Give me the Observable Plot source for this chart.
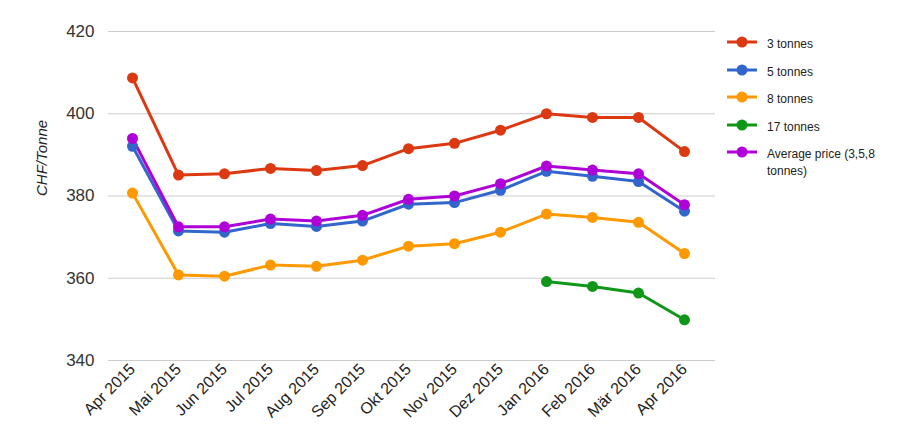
<!DOCTYPE html>
<html><head><meta charset="utf-8">
<script src="https://cdn.jsdelivr.net/npm/d3@7"></script>
<script src="https://cdn.jsdelivr.net/npm/@observablehq/plot@0.6"></script>
<style>
body{margin:0;background:#fff;font-family:Arial,"Liberation Sans",sans-serif;}
#wrap{position:relative;width:911px;height:441px;}
#legend{position:absolute;left:726px;top:33px;font-size:12px;color:#222;}
.it{position:relative;height:27.5px;}
.it svg{position:absolute;left:0;top:2px;}
.it span{position:absolute;left:41px;top:3px;width:140px;line-height:17px;}
</style></head><body>
<div id="wrap"><div id="chart"></div><div id="legend"></div></div>
<script>
const months = ["Apr 2015","Mai 2015","Jun 2015","Jul 2015","Aug 2015","Sep 2015","Okt 2015","Nov 2015","Dez 2015","Jan 2016","Feb 2016","Mär 2016","Apr 2016"];
const t3 = [408.7,385.1,385.4,386.7,386.2,387.4,391.5,392.8,396.0,400.0,399.1,399.1,390.8];
const t5 = [392.1,371.5,371.2,373.3,372.6,373.9,378.0,378.4,381.4,386.0,384.8,383.5,376.3];
const t8 = [380.7,360.8,360.5,363.2,362.9,364.4,367.8,368.4,371.2,375.6,374.8,373.6,366.0];
const t17 = [null,null,null,null,null,null,null,null,null,359.2,358.0,356.4,349.9];
const avg = [394.0,372.5,372.5,374.4,373.9,375.3,379.2,380.0,383.0,387.3,386.3,385.4,377.9];
const seriesNames = ["3 tonnes","5 tonnes","8 tonnes","17 tonnes","Average price (3,5,8 tonnes)"];
const seriesColors = ["#dc3912","#3366cc","#ff9900","#109618","#b000d8"];
const yTicks = [340,360,380,400,420];

const all = [t3,t5,t8,t17,avg];
const data = [];
all.forEach((arr,si)=>arr.forEach((v,i)=>{ if(v!=null) data.push({month:months[i], value:v, series:seriesNames[si]}); }));
const chart = Plot.plot({
  width: 720, height: 441,
  marginLeft: 108, marginRight: 5, marginTop: 31, marginBottom: 81,
  style:{fontFamily:"Arial, 'Liberation Sans', sans-serif", fontSize:"16px", color:"#333"},
  x:{type:"point", domain:months, padding:0, insetLeft:23, insetRight:31, label:null},
  y:{domain:[340,420], ticks:yTicks, label:null},
  color:{domain:seriesNames, range:seriesColors},
  marks:[
    Plot.gridY(yTicks,{stroke:"#ccc", strokeOpacity:1}),
    Plot.axisY({ticks:yTicks, tickSize:0, tickPadding:14, fontSize:17, fill:"#333"}),
    Plot.axisX({tickSize:0, tickRotate:-45, tickPadding:6, fontSize:16, fill:"#222"}),
    Plot.text(["CHF/Tonne"],{frameAnchor:"left", dx:-66, rotate:-90, fontStyle:"italic", fontSize:15, fill:"#222"}),
    Plot.line(data,{x:"month", y:"value", z:"series", stroke:"series", strokeWidth:3}),
    Plot.dot(data,{x:"month", y:"value", fill:"series", r:5.5})
  ]
});
document.getElementById("chart").appendChild(chart);
const lg = document.getElementById("legend");
seriesNames.forEach((n,i)=>{
  const d=document.createElement("div"); d.className="it";
  d.innerHTML=`<svg width="34" height="14"><line x1="1" x2="31" y1="7" y2="7" stroke="${seriesColors[i]}" stroke-width="3"/><circle cx="16" cy="7" r="5.5" fill="${seriesColors[i]}"/></svg><span>${n}</span>`;
  lg.appendChild(d);
});
</script></body></html>
